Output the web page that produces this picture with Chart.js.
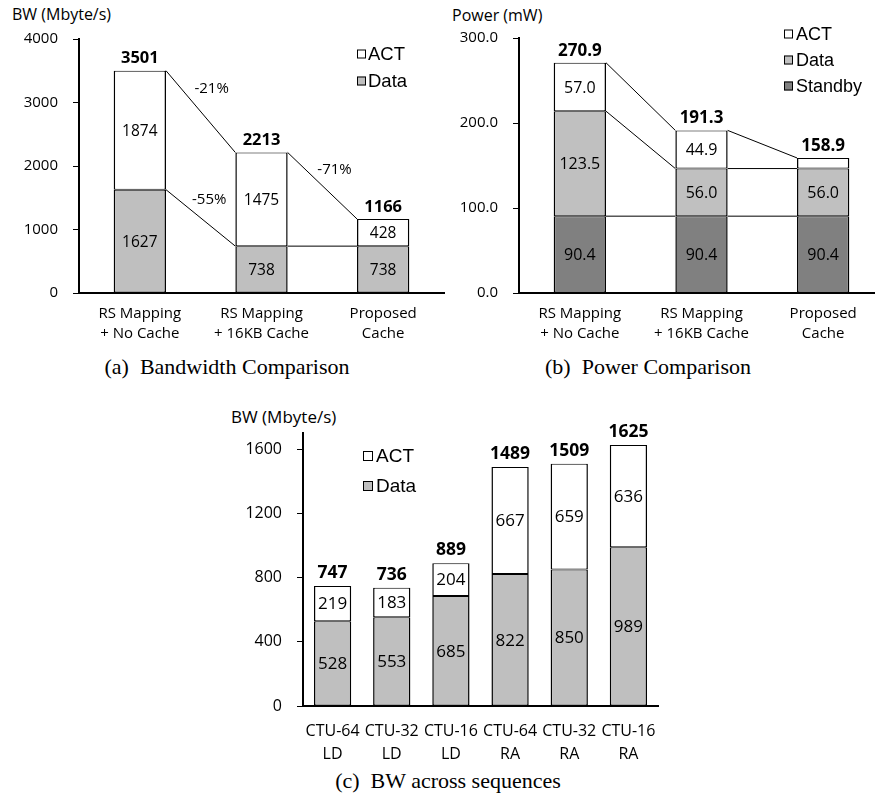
<!DOCTYPE html>
<html>
<head>
<meta charset="utf-8">
<script src="https://cdn.jsdelivr.net/npm/chart.js@4.4.1/dist/chart.umd.min.js"></script>
<style>
  html, body { margin:0; padding:0; background:#fff; }
  body { width:875px; height:795px; overflow:hidden; position:relative; }
  canvas { position:absolute; }
  .t { position:absolute; font-family:'Open Sans', sans-serif; color:#000; white-space:pre; line-height:1; }
  .cap { position:absolute; font-family:'Liberation Serif', 'Times New Roman', serif; font-size:22px; color:#000; white-space:pre; line-height:1; transform:translate(-50%,-50%); }
</style>
</head>
<body>
<div class="t" style="left:12px; top:6px; font-size:16px;">BW (Mbyte/s)</div>
<div class="t" style="left:452px; top:7px; font-size:16px;">Power (mW)</div>
<div class="t" style="left:231px; top:408px; font-size:17px;">BW (Mbyte/s)</div>
<div class="cap" style="left:227px; top:367px;">(a)  Bandwidth Comparison</div>
<div class="cap" style="left:648px; top:367px;">(b)  Power Comparison</div>
<div class="cap" style="left:448px; top:781px;">(c)  BW across sequences</div>

<canvas id="cA" width="450" height="380" style="left:0px; top:0px;"></canvas>
<canvas id="cB" width="450" height="380" style="left:440px; top:0px;"></canvas>
<canvas id="cC" width="470" height="395" style="left:200px; top:380px;"></canvas>

<script>
// ---------- data ----------
const bwCategories = [['RS Mapping', '+ No Cache'], ['RS Mapping', '+ 16KB Cache'], ['Proposed', 'Cache']];
const bwData = [1627, 738, 738];
const bwAct = [1874, 1475, 428];
const bwTotals = [3501, 2213, 1166];
const bwTicks = [0, 1000, 2000, 3000, 4000];
const bwChangeLabels = ['-21%', '-55%', '-71%'];
const bwChangeAnchors = [[0.59, 3209], [0.57, 1470], [1.6, 1944]];

const pwCategories = [['RS Mapping', '+ No Cache'], ['RS Mapping', '+ 16KB Cache'], ['Proposed', 'Cache']];
const pwStandby = [90.4, 90.4, 90.4];
const pwData = [123.5, 56.0, 56.0];
const pwAct = [57.0, 44.9, 12.5];
const pwTotals = [270.9, 191.3, 158.9];
const pwTicks = [0, 100, 200, 300];

const seqCategories = [['CTU-64', 'LD'], ['CTU-32', 'LD'], ['CTU-16', 'LD'], ['CTU-64', 'RA'], ['CTU-32', 'RA'], ['CTU-16', 'RA']];
const seqData = [528, 553, 685, 822, 850, 989];
const seqAct = [219, 183, 204, 667, 659, 636];
const seqTotals = [747, 736, 889, 1489, 1509, 1625];
const seqTicks = [0, 400, 800, 1200, 1600];

// ---------- helpers ----------
const FONT = "'Open Sans', sans-serif";
const LEGEND_FONT = "'Liberation Sans', Arial, sans-serif";

function labelPlugin(o) {
  return {
    id: 'labels',
    afterDatasetsDraw(chart) {
      const ctx = chart.ctx;
      const n = chart.data.datasets.length;
      ctx.save();
      ctx.fillStyle = '#000';
      ctx.textAlign = 'center';
      ctx.textBaseline = 'middle';
      // connector lines
      if (o.connect) {
        ctx.strokeStyle = '#000';
        ctx.lineWidth = 1;
        for (let d = 0; d < n; d++) {
          const els = chart.getDatasetMeta(d).data;
          ctx.beginPath();
          for (let j = 0; j < els.length - 1; j++) {
            const a = els[j], b = els[j + 1];
            ctx.moveTo(a.x + a.width / 2, a.y);
            ctx.lineTo(b.x - b.width / 2, b.y);
          }
          ctx.stroke();
        }
      }
      // segment values
      ctx.font = o.valueFont;
      for (let d = 0; d < n; d++) {
        const ds = chart.data.datasets[d];
        chart.getDatasetMeta(d).data.forEach((el, j) => {
          const v = ds.data[j];
          if (v < o.minLabel) return;
          ctx.fillText(o.fmt(v), el.x, (el.y + el.base) / 2 + 1);
        });
      }
      // totals
      ctx.font = o.totalFont;
      const top = chart.getDatasetMeta(n - 1).data;
      top.forEach((el, j) => {
        ctx.fillText(o.fmt(o.totals[j]), el.x, el.y - o.totalOffset);
      });
      // annotations
      if (o.notes) {
        ctx.font = o.noteFont;
        const xs = chart.scales.x, ys = chart.scales.y;
        o.notes.forEach((t, k) => {
          const [xi, yv] = o.noteAnchors[k];
          ctx.fillText(t, xs.getPixelForValue(xi), ys.getPixelForValue(yv));
        });
      }
      // legend
      ctx.font = o.legendFont;
      ctx.textAlign = 'left';
      const order = chart.data.datasets.slice().reverse();
      order.forEach((ds, k) => {
        const y = o.legend.y + k * o.legend.gap;
        const s = o.legend.box;
        ctx.fillStyle = ds.backgroundColor;
        ctx.fillRect(o.legend.x, y - s / 2, s, s);
        ctx.strokeStyle = '#000';
        ctx.lineWidth = 1;
        ctx.strokeRect(o.legend.x + 0.5, y - s / 2 + 0.5, s - 1, s - 1);
        ctx.fillStyle = '#000';
        ctx.fillText(ds.label, o.legend.tx, y + 1);
      });
      ctx.restore();
    }
  };
}

function makeChart(id, g) {
  const datasets = g.series.map(s => ({
    label: s.label,
    data: s.data,
    backgroundColor: s.color,
    borderColor: '#000',
    borderWidth: { left: 1.5, right: 1.5, top: 1, bottom: 1 },
    borderSkipped: false,
    barPercentage: g.barPct,
    categoryPercentage: 1
  }));
  return new Chart(document.getElementById(id), {
    type: 'bar',
    data: { labels: g.categories, datasets },
    options: {
      responsive: false,
      animation: false,
      events: [],
      layout: { padding: { left: 0, top: g.top, right: g.right, bottom: 0 } },
      plugins: { legend: { display: false }, tooltip: { enabled: false }, title: { display: false } },
      scales: {
        x: {
          stacked: true,
          grid: { display: false, drawTicks: false },
          border: { display: true, color: '#000', width: 2 },
          ticks: { color: '#000', font: { family: FONT, size: g.xFont, lineHeight: g.xLine }, padding: g.xPad, maxRotation: 0, autoSkip: false },
          afterFit: s => { s.height = g.xHeight; }
        },
        y: {
          stacked: true,
          min: 0,
          max: g.yMax,
          afterBuildTicks: s => { s.ticks = g.ticks.map(v => ({ value: v })); },
          ticks: { color: '#000', font: { family: FONT, size: g.yFont }, padding: g.yPad, callback: g.yFmt },
          grid: { drawOnChartArea: false, drawTicks: true, tickLength: 6, color: '#000', lineWidth: 1 },
          border: { display: true, color: '#000', width: 2 },
          afterFit: s => { s.width = g.yWidth; }
        }
      }
    },
    plugins: [labelPlugin(g.labels)]
  });
}

// ---------- (a) bandwidth ----------
makeChart('cA', {
  categories: bwCategories,
  series: [
    { label: 'Data', data: bwData, color: '#bfbfbf' },
    { label: 'ACT', data: bwAct, color: '#ffffff' }
  ],
  barPct: 0.43, top: 39, right: 6, xHeight: 87, yWidth: 79, yMax: 4000, ticks: bwTicks,
  xFont: 15, xLine: 1.38, xPad: 10, yFont: 15, yPad: 15,
  yFmt: v => String(v),
  labels: {
    fmt: v => String(v), totals: bwTotals, minLabel: 0,
    valueFont: "15.5px " + FONT, totalFont: "bold 16.5px " + FONT, totalOffset: 12,
    connect: true,
    notes: bwChangeLabels, noteAnchors: bwChangeAnchors, noteFont: "15px " + FONT,
    legendFont: "18.5px " + LEGEND_FONT,
    legend: { x: 357, tx: 368, y: 54, gap: 27, box: 9 }
  }
});

// ---------- (b) power ----------
makeChart('cB', {
  categories: pwCategories,
  series: [
    { label: 'Standby', data: pwStandby, color: '#808080' },
    { label: 'Data', data: pwData, color: '#c0c0c0' },
    { label: 'ACT', data: pwAct, color: '#ffffff' }
  ],
  barPct: 0.43, top: 38, right: 6, xHeight: 87, yWidth: 79, yMax: 300, ticks: pwTicks,
  xFont: 15, xLine: 1.38, xPad: 10, yFont: 15, yPad: 15,
  yFmt: v => v.toFixed(1),
  labels: {
    fmt: v => v.toFixed(1), totals: pwTotals, minLabel: 20,
    valueFont: "16px " + FONT, totalFont: "bold 17px " + FONT, totalOffset: 12,
    connect: true,
    legendFont: "18px " + LEGEND_FONT,
    legend: { x: 344, tx: 356, y: 34, gap: 26, box: 9 }
  }
});

// ---------- (c) across sequences ----------
makeChart('cC', {
  categories: seqCategories,
  series: [
    { label: 'Data', data: seqData, color: '#bfbfbf' },
    { label: 'ACT', data: seqAct, color: '#ffffff' }
  ],
  barPct: 0.63, top: 53, right: 7, xHeight: 69, yWidth: 103, yMax: 1700, ticks: seqTicks,
  xFont: 16, xLine: 1.45, xPad: 14, yFont: 16, yPad: 15,
  yFmt: v => String(v),
  labels: {
    fmt: v => String(v), totals: seqTotals, minLabel: 0,
    valueFont: "17px " + FONT, totalFont: "bold 17.5px " + FONT, totalOffset: 13,
    connect: false,
    legendFont: "19px " + LEGEND_FONT,
    legend: { x: 163, tx: 176, y: 76, gap: 30, box: 10 }
  }
});
</script>
</body>
</html>
